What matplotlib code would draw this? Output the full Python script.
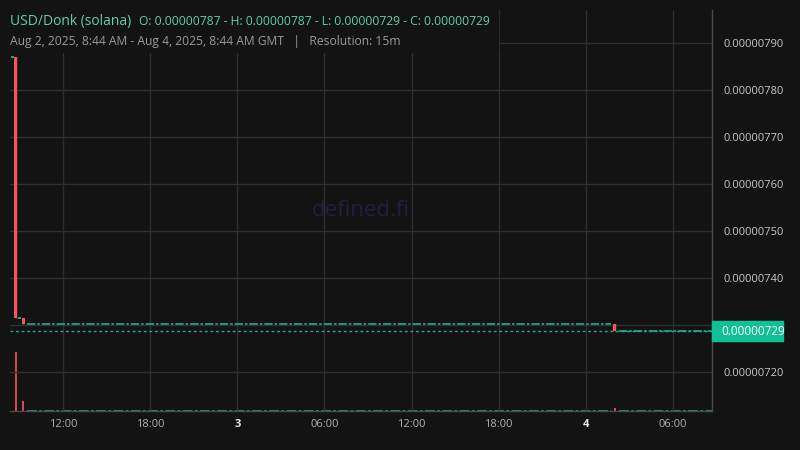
import datetime as dt
import matplotlib
matplotlib.use('Agg')
import matplotlib.pyplot as plt
import matplotlib.dates as mdates
from matplotlib.patches import Rectangle

# ローソク足データ (15分足)
candle_times = ['2025-08-02 08:30', '2025-08-02 08:45', '2025-08-02 09:00',
                '2025-08-02 09:15', '2025-08-04 02:00']
opens = [7.870e-6, 7.870e-6, 7.314e-6, 7.314e-6, 7.303e-6]
highs = [7.870e-6, 7.870e-6, 7.314e-6, 7.314e-6, 7.303e-6]
lows = [7.870e-6, 7.314e-6, 7.314e-6, 7.303e-6, 7.287e-6]
closes = [7.870e-6, 7.314e-6, 7.314e-6, 7.303e-6, 7.287e-6]
volumes = [8, 1180, 8, 200, 60]

# 値動きのない区間 (開始, 終了, 価格)
flat_starts = ['2025-08-02 09:30', '2025-08-04 02:15']
flat_ends = ['2025-08-04 01:45', '2025-08-04 08:40']
flat_prices = [7.303e-6, 7.287e-6]

x_ticks = ['2025-08-02 12:00', '2025-08-02 18:00', '2025-08-03 00:00', '2025-08-03 06:00',
           '2025-08-03 12:00', '2025-08-03 18:00', '2025-08-04 00:00', '2025-08-04 06:00']
x_tick_labels = ['12:00', '18:00', '3', '06:00', '12:00', '18:00', '4', '06:00']
y_ticks = [7.2e-6, 7.3e-6, 7.4e-6, 7.5e-6, 7.6e-6, 7.7e-6, 7.8e-6, 7.9e-6]

BG = '#131313'
GRID = '#2f2f2f'
RED = '#f7525f'
TEAL = '#22ab94'
LABEL_GREEN = '#0fc194'

def to_dt(s):
    return dt.datetime.strptime(s, '%Y-%m-%d %H:%M')

plt.rcParams['font.family'] = ['Open Sans', 'DejaVu Sans']

fig = plt.figure(figsize=(8, 4.5), dpi=100, facecolor=BG)
ax = fig.add_axes([10 / 800, 39 / 450, 702 / 800, 401 / 450])
ax.set_facecolor(BG)
ax_v = ax.twinx()
ax_v.set_zorder(ax.get_zorder() - 1)
ax.patch.set_visible(False)

slot = dt.timedelta(minutes=15)
w_c = slot * 0.85
w_v = slot * 0.5

# ローソク足
for t, o, h, l, c in zip(candle_times, opens, highs, lows, closes):
    t = to_dt(t)
    if c == o:
        ax.hlines(c, t - w_c / 2, t + w_c / 2, color=TEAL, lw=1.3, zorder=4)
    else:
        col = TEAL if c > o else RED
        ax.vlines(t, l, h, color=col, lw=1, zorder=4)
        ax.bar(t, c - o, bottom=o, width=w_c, color=col, zorder=4)

for s, e, p in zip(flat_starts, flat_ends, flat_prices):
    ax.hlines(p, to_dt(s), to_dt(e), color=TEAL, lw=1.2, linestyles=(0, (5, 1.2, 1.5, 1.2)), zorder=4)
    ax_v.hlines(0, to_dt(s), to_dt(e), color=TEAL, lw=1.4, alpha=0.8,
                linestyles=(0, (5, 1.2, 1.5, 1.2)), zorder=4, clip_on=False)

# 出来高
for t, o, c, v in zip(candle_times, opens, closes, volumes):
    col = TEAL if c >= o else RED
    ax_v.bar(to_dt(t), v, width=w_v, color=col, alpha=0.85, zorder=3)
ax_v.set_ylim(0, max(volumes) * 6.8)
ax_v.set_yticks([])
for sp in ax_v.spines.values():
    sp.set_visible(False)

# 現在値ライン
last = closes[-1]
ax.axhline(last, color=TEAL, lw=1, linestyle=(0, (2, 2)), zorder=3)

ax.set_xlim(to_dt('2025-08-02 08:21'), to_dt('2025-08-04 08:41'))
ax.set_ylim(7.117e-6, 7.9702e-6)

ax.set_xticks([mdates.date2num(to_dt(s)) for s in x_ticks])
ax.set_xticklabels(x_tick_labels)
ax.set_yticks(y_ticks)
ax.set_yticklabels([f'{v:.8f}' for v in y_ticks])
ax.yaxis.tick_right()
ax.tick_params(axis='y', length=0, pad=8, labelsize=8, labelcolor='#c8c8c8')
ax.tick_params(axis='x', length=0, pad=6, labelsize=8, labelcolor='#b0b0b0')
for lab in ax.get_xticklabels():
    if lab.get_text() in ('3', '4'):
        lab.set_color('#e6e6e6')
        lab.set_fontweight('bold')
ax.grid(True, color=GRID, lw=1)
ax.set_axisbelow(True)
for k in ('top', 'left'):
    ax.spines[k].set_visible(False)
for k in ('right', 'bottom'):
    ax.spines[k].set_color('#4a4a4a')
    ax.spines[k].set_linewidth(1)

# ウォーターマーク
ax.text(0.5, 0.5, 'defined.fi', transform=ax.transAxes, ha='center', va='center',
        fontsize=16, color='#221f3e', zorder=1)

# 価格ラベル
disp = ax.transData.transform((ax.get_xlim()[1], last))
fy = fig.transFigure.inverted().transform(disp)[1]
fig.add_artist(Rectangle((712 / 800, fy - 10 / 450), 71 / 800, 20 / 450,
                         transform=fig.transFigure, color=LABEL_GREEN, zorder=8))
fig.text(721 / 800, fy, f'{last:.8f}', ha='left', va='center', fontsize=8.4,
         color='white', zorder=9)

# ヘッダー
fig.add_artist(Rectangle((0, 1 - 52 / 450), 498 / 800, 52 / 450,
                         transform=fig.transFigure, color=BG, zorder=5))
fig.text(10 / 800, 1 - 25 / 450, 'USD/Donk (solana)', fontsize=10, color='#5ecfae',
         va='baseline', zorder=6)
ohlc = (f'O: {opens[0]:.8f} - H: {max(highs):.8f} - '
        f'L: {min(lows):.8f} - C: {closes[-1]:.8f}')
fig.text(139 / 800, 1 - 25 / 450, ohlc, fontsize=8.7, color='#5ecfae', va='baseline', zorder=6)
fig.text(10 / 800, 1 - 45 / 450,
         'Aug 2, 2025, 8:44 AM - Aug 4, 2025, 8:44 AM GMT   |   Resolution: 15m',
         fontsize=8.7, color='#9a9a9a', va='baseline', zorder=6)

fig.savefig('out.png', dpi=100, facecolor=BG)
